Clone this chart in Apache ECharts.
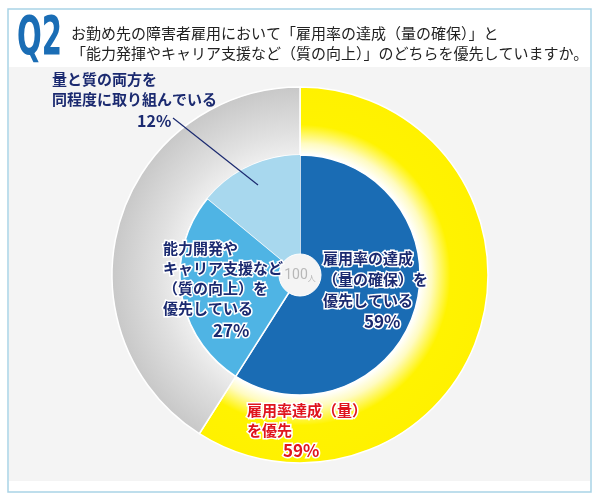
<!DOCTYPE html>
<html><head><meta charset="utf-8">
<script src="https://cdn.jsdelivr.net/npm/echarts@6/dist/echarts.min.js"></script>
<style>html,body{margin:0;padding:0;background:#fff}#c{width:600px;height:503px}</style>
</head><body><div id="c"></div>
<script>
// ---- data ----
const titleLines = ['お勤め先の障害者雇用において「雇用率の達成（量の確保）」と', '「能力発揮やキャリア支援など（質の向上）」のどちらを優先していますか。'];
const outerNames = ['雇用率達成（量）を優先', 'その他'];
const outerValues = [59, 41];
const innerNames = ['雇用率の達成（量の確保）を優先している', '能力開発やキャリア支援など（質の向上）を優先している', '量と質の両方を同程度に取り組んでいる', 'その他'];
const innerValues = [59, 27, 12, 2];
const totalLabel = '100';
const totalUnit = '人';
const innerLabelLines = [['雇用率の達成', '（量の確保）を', '優先している'], ['能力開発や', 'キャリア支援など', '（質の向上）を', '優先している'], ['量と質の両方を', '同程度に取り組んでいる']];
const outerLabelLines = [['雇用率達成（量）', 'を優先']];

const CX = 300, CY = 275, R_OUT = 188, R_IN = 120;
const JP = '"Noto Sans CJK JP", "Noto Sans", sans-serif';
const NAVY = '#1b2a70';

const chart = echarts.init(document.getElementById('c'));

function radial(stops) {
  return { type: 'radial', x: CX, y: CY, r: R_OUT, global: true, colorStops: stops };
}
const yellowGrad = radial([{offset: 0, color: '#ffffff'}, {offset: 0.64, color: '#ffffff'}, {offset: 0.70, color: '#fffbc0'}, {offset: 0.80, color: '#fff300'}, {offset: 1, color: '#fff100'}]);
const grayGrad = radial([{offset: 0, color: '#f2f2f2'}, {offset: 0.64, color: '#eeeeee'}, {offset: 0.76, color: '#e0e0e0'}, {offset: 1, color: '#c8c8c8'}]);
const outerColors = [yellowGrad, grayGrad];
const PALE = '#a8d8ee';
const innerColors = ['#1a6cb4', '#4fb4e4', PALE, PALE];
const innerBorder = [1.5, 1.5, 0, 0];

function textEl(str, x, y, opt) {
  return {
    type: 'text', x: x, y: y, z: 100,
    style: Object.assign({ text: str, font: 'bold 15px ' + JP, fill: NAVY, textVerticalAlign: 'middle', textAlign: 'left' }, opt || {})
  };
}

const graphics = [
  { type: 'rect', z: -10, shape: { x: 8, y: 9, width: 583, height: 483 }, style: { fill: '#ffffff', stroke: '#a9d3e6', lineWidth: 1.5 } },
  { type: 'rect', z: -9, shape: { x: 9, y: 67, width: 581, height: 414 }, style: { fill: '#f4f4f4' } },
  { type: 'text', z: 100, x: 17, y: 40, scaleX: 0.6, style: { text: 'Q2', font: 'bold 54px "DejaVu Sans Condensed", sans-serif', fill: '#1a6db5', textVerticalAlign: 'middle' } },
  textEl(titleLines[0], 71, 33, { font: '15px ' + JP, fill: '#222' }),
  textEl(titleLines[1], 71, 53, { font: '15px ' + JP, fill: '#222' }),
  { type: 'line', z: 100, shape: { x1: 173, y1: 118, x2: 258, y2: 185 }, style: { stroke: NAVY, lineWidth: 1.2 } }
];
innerLabelLines[2].forEach((l, i) => graphics.push(textEl(l, 52, 79 + i * 20, { font: 'bold 15px ' + JP })));
graphics.push(textEl(innerValues[2] + '%', 137, 121, { font: 'bold 16px ' + JP }));
innerLabelLines[1].forEach((l, i) => graphics.push(textEl(l, 163, 248 + i * 20, { font: 'bold 15px ' + JP, stroke: '#fff', lineWidth: 3 })));
graphics.push(textEl(innerValues[1] + '%', 213, 331, { font: 'bold 17px ' + JP, stroke: '#fff', lineWidth: 3 }));
innerLabelLines[0].forEach((l, i) => graphics.push(textEl(l, 323, 258 + i * 21, { font: 'bold 15px ' + JP, stroke: '#fff', lineWidth: 3 })));
graphics.push(textEl(innerValues[0] + '%', 364, 322, { font: 'bold 17px ' + JP, stroke: '#fff', lineWidth: 3 }));
outerLabelLines[0].forEach((l, i) => graphics.push(textEl(l, 247, 410 + i * 20, { font: 'bold 15px ' + JP, fill: '#e0141e', stroke: '#fff', lineWidth: 3 })));
graphics.push(textEl(outerValues[0] + '%', 283, 451, { font: 'bold 17px ' + JP, fill: '#e0141e', stroke: '#fff', lineWidth: 3 }));

chart.setOption({
  animation: false,
  graphic: graphics,
  series: [
    {
      type: 'pie', center: [CX, CY], radius: [R_IN, R_OUT], startAngle: 90, clockwise: true,
      label: { show: false }, labelLine: { show: false }, silent: true,
      data: outerValues.map((v, i) => ({ value: v, name: outerNames[i], itemStyle: { color: outerColors[i], borderColor: '#fff', borderWidth: 1.5 } }))
    },
    {
      // pale underlay hides the seam between the two pale sectors
      type: 'pie', center: [CX, CY], radius: [0, R_IN - 1], z: 1, silent: true,
      label: { show: false }, labelLine: { show: false },
      data: [{ value: innerValues.reduce((a, b) => a + b, 0), name: '', itemStyle: { color: PALE } }]
    },
    {
      type: 'pie', center: [CX, CY], radius: [0, R_IN], startAngle: 90, clockwise: true, z: 3,
      label: { show: false }, labelLine: { show: false }, silent: true,
      data: innerValues.map((v, i) => ({ value: v, name: innerNames[i], itemStyle: { color: innerColors[i], borderColor: '#fff', borderWidth: innerBorder[i] } }))
    },
    {
      type: 'pie', center: [CX, CY], radius: [0, 21], silent: true, z: 5,
      label: { show: true, position: 'center', formatter: '{a|' + totalLabel + '}{b|' + totalUnit + '}', rich: { a: { fontFamily: 'Roboto', fontSize: 14, color: '#b8b8b8' }, b: { fontFamily: JP, fontSize: 8, color: '#b8b8b8', padding: [5, 0, 0, 0] } } },
      labelLine: { show: false },
      data: [{ value: Number(totalLabel), name: '合計', itemStyle: { color: '#f4f4f4', borderColor: '#ffffff', borderWidth: 1 } }]
    }
  ]
});
</script></body></html>
